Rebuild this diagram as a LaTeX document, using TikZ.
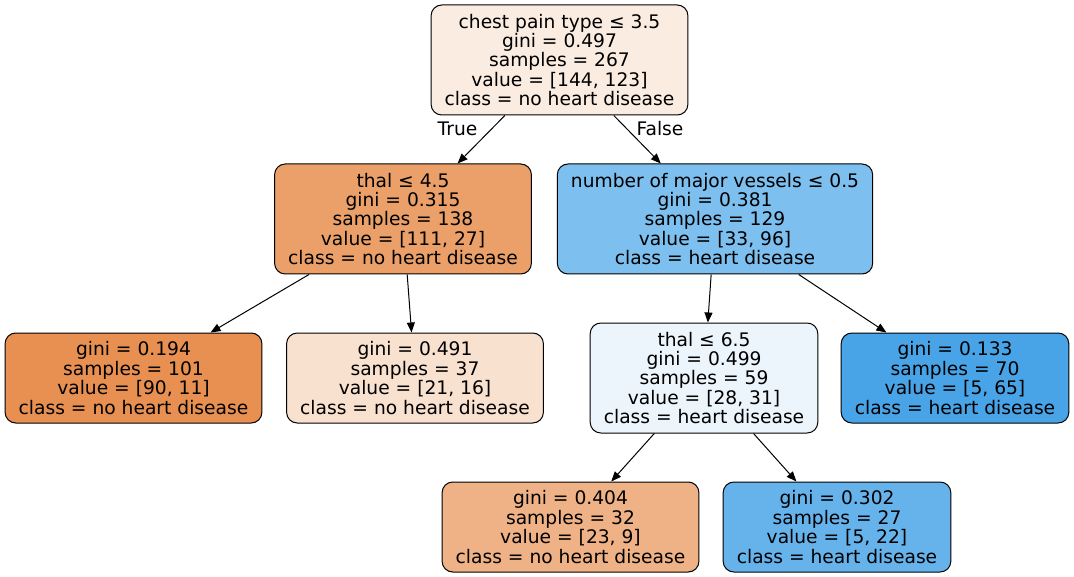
\documentclass[tikz,border=0pt]{standalone}
\usepackage{fontspec}
\setmainfont{DejaVu Sans}
\usetikzlibrary{arrows.meta}
\definecolor{clrroot}{HTML}{FBECE2}
\definecolor{clrthal_a}{HTML}{EBA069}
\definecolor{clrvessels}{HTML}{7DBFEE}
\definecolor{clrleaf_a}{HTML}{E89051}
\definecolor{clrleaf_b}{HTML}{F9E1D0}
\definecolor{clrthal_b}{HTML}{ECF5FC}
\definecolor{clrleaf_c}{HTML}{48A4E7}
\definecolor{clrleaf_d}{HTML}{EFB286}
\definecolor{clrleaf_e}{HTML}{66B3EB}
\definecolor{clrborder}{HTML}{000000}

\begin{document}
\begin{tikzpicture}[
    x=0.75pt, y=-0.75pt,
    >={Triangle[length=7.5pt, width=6pt]},
    every node/.style={font=\fontsize{14}{14.6}\selectfont},
    split/.style={draw=clrborder, rounded corners=8pt, align=center, inner xsep=10.2pt,
                  minimum height=82.5pt, line width=0.75pt},
    leaf/.style={split, minimum height=67.5pt},
    arrow/.style={->, color=clrborder, line width=0.75pt},
    edgelabel/.style={inner sep=0pt},
]
\useasboundingbox (0,0) rectangle (1074,577);
\node[split, fill=clrroot] (n_1) at (559.5,60) {chest pain type ≤ 3.5\\gini = 0.497\\samples = 267\\value = [144, 123]\\class = no heart disease};
\node[split, fill=clrthal_a] (n_2) at (403,219) {thal ≤ 4.5\\gini = 0.315\\samples = 138\\value = [111, 27]\\class = no heart disease};
\node[split, fill=clrvessels] (n_3) at (715,219) {number of major vessels ≤ 0.5\\gini = 0.381\\samples = 129\\value = [33, 96]\\class = heart disease};
\node[leaf, fill=clrleaf_a] (n_4) at (133.5,378) {gini = 0.194\\samples = 101\\value = [90, 11]\\class = no heart disease};
\node[leaf, fill=clrleaf_b] (n_5) at (415,378) {gini = 0.491\\samples = 37\\value = [21, 16]\\class = no heart disease};
\node[split, fill=clrthal_b] (n_6) at (704,378) {thal ≤ 6.5\\gini = 0.499\\samples = 59\\value = [28, 31]\\class = heart disease};
\node[leaf, fill=clrleaf_c] (n_7) at (955,378) {gini = 0.133\\samples = 70\\value = [5, 65]\\class = heart disease};
\node[leaf, fill=clrleaf_d] (n_8) at (570.5,527) {gini = 0.404\\samples = 32\\value = [23, 9]\\class = no heart disease};
\node[leaf, fill=clrleaf_e] (n_9) at (837,527) {gini = 0.302\\samples = 27\\value = [5, 22]\\class = heart disease};
\draw[arrow] (n_1) -- (n_2);
\draw[arrow] (n_1) -- (n_3);
\draw[arrow] (n_2) -- (n_4);
\draw[arrow] (n_2) -- (n_5);
\draw[arrow] (n_3) -- (n_6);
\draw[arrow] (n_3) -- (n_7);
\draw[arrow] (n_6) -- (n_8);
\draw[arrow] (n_6) -- (n_9);
\node[edgelabel] (lbl_true) at (457.5,129) {True};
\node[edgelabel] (lbl_false) at (660,129) {False};
\end{tikzpicture}
\end{document}
